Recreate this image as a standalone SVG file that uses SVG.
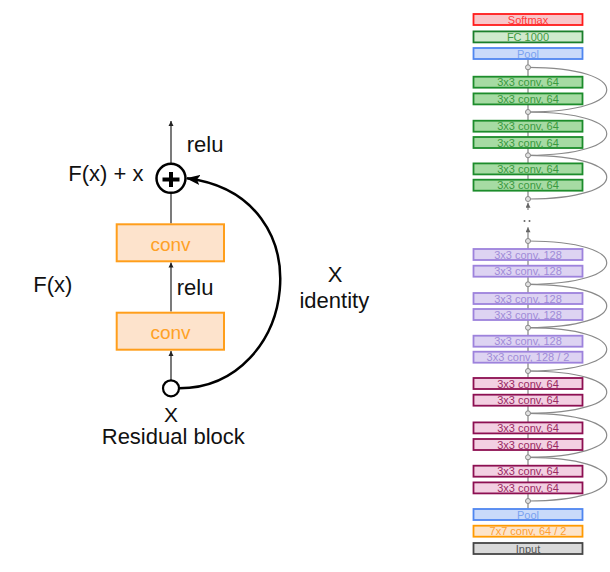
<svg xmlns="http://www.w3.org/2000/svg" width="610" height="572" viewBox="0 0 610 572">
<defs>
<marker id="ah" viewBox="0 0 10 10" refX="10" refY="5" markerWidth="5" markerHeight="6" markerUnits="userSpaceOnUse" orient="auto">
<path d="M0,0 L10,5 L0,10 Z" fill="#222"/>
</marker>
<marker id="big" viewBox="0 0 14 10" refX="13" refY="5" markerWidth="14" markerHeight="10" markerUnits="userSpaceOnUse" orient="auto">
<path d="M0,0 L14,5 L0,10 L3,5 Z" fill="#000"/>
</marker>
<marker id="gah" viewBox="0 0 10 10" refX="10" refY="5" markerWidth="6" markerHeight="5" markerUnits="userSpaceOnUse" orient="auto">
<path d="M0,0 L10,5 L0,10 Z" fill="#666"/>
</marker>
</defs>
<style>
.lbl{font-family:"Liberation Sans",Arial,sans-serif;font-size:22px;fill:#111}
.conv{fill:#fde3cc;stroke:#ff9e1b;stroke-width:2}
.convt{font-family:"Liberation Sans",Arial,sans-serif;font-size:19px;fill:#ffa126;text-anchor:middle}
.ln{stroke:#333;stroke-width:1.3;fill:none}
.bx{stroke-width:1.8}
.bt{font-family:"Liberation Sans",Arial,sans-serif;font-size:11px;text-anchor:middle}
.red{fill:#f8c6c9;stroke:#ff1a1a}
.redt{fill:#ff3a3a}
.fc{fill:#d0eacd;stroke:#1b7f2b}
.fct{fill:#3f9a3f}
.pool{fill:#c9dafa;stroke:#4f86f0}
.poolt{fill:#7aa2f0}
.grn{fill:#a6dba3;stroke:#1c8c2b}
.grnt{fill:#3a9a3f}
.pur{fill:#ddd3f2;stroke:#9d82dc}
.purt{fill:#a08cd8}
.pnk{fill:#f3d0e2;stroke:#8d0f52}
.pnkt{fill:#9a2a62}
.org{fill:#fde4ca;stroke:#ff9a00}
.orgt{fill:#ffa030}
.inp{fill:#d9d9d9;stroke:#454545}
.inpt{fill:#555}
.sk{fill:none;stroke:#8a8a8a;stroke-width:1.2}
.vl{stroke:#777;stroke-width:1.1;fill:none}
.dot{fill:#e2e2e2;stroke:#888;stroke-width:1}
</style>

<g id="connectors">
<line class="ln" x1="171" y1="163" x2="171" y2="121" marker-end="url(#ah)"/>
<line class="ln" x1="171" y1="223.5" x2="171" y2="193.5"/>
<line class="ln" x1="171" y1="311.5" x2="171" y2="262.5" marker-end="url(#ah)"/>
<line class="ln" x1="171" y1="380" x2="171" y2="351" marker-end="url(#ah)"/>
<path d="M179,388.3 C298,388 326,196 187,178.3" fill="none" stroke="#000" stroke-width="2.5" marker-end="url(#big)"/>

<line class="vl" x1="528" y1="59.5" x2="528" y2="199"/>
<line class="vl" x1="528" y1="241" x2="528" y2="508.5"/>
<line class="vl" x1="528" y1="210" x2="528" y2="202.7" marker-end="url(#gah)"/>
<line class="vl" x1="528" y1="241" x2="528" y2="227.3" marker-end="url(#gah)"/>
<circle cx="524.5" cy="221" r="1" fill="#666"/>
<circle cx="529.5" cy="221" r="1" fill="#666"/>
<path class="sk" d="M528,112 C633,112 633,67.3 528,67.3"/>
<path class="sk" d="M528,155.3 C633,155.3 633,112 528,112"/>
<path class="sk" d="M528,199 C633,199 633,155.3 528,155.3"/>
<path class="sk" d="M528,284.3 C633,284.3 633,241 528,241"/>
<path class="sk" d="M528,327.7 C633,327.7 633,284.3 528,284.3"/>
<path class="sk" d="M528,371 C633,371 633,327.7 528,327.7"/>
<path class="sk" d="M528,413.3 C633,413.3 633,371 528,371"/>
<path class="sk" d="M528,457.3 C633,457.3 633,413.3 528,413.3"/>
<path class="sk" d="M528,501 C633,501 633,457.3 528,457.3"/>
</g>

<g id="left-labels">
<text class="lbl" x="186.7" y="151.7">relu</text>
<text class="lbl" x="68.3" y="181">F(x) + x</text>
<text class="lbl" x="33.3" y="292">F(x)</text>
<text class="lbl" x="176.7" y="295">relu</text>
<text class="lbl" x="171" y="422" text-anchor="middle" style="font-size:21px">X</text>
<text class="lbl" x="173.3" y="443.8" text-anchor="middle">Residual block</text>
<text class="lbl" x="335" y="282" text-anchor="middle">X</text>
<text class="lbl" x="334.3" y="307.7" text-anchor="middle">identity</text>
</g>

<g id="plus">
<circle cx="171" cy="178.3" r="14.5" fill="#fff" stroke="#000" stroke-width="2.5"/>
<line x1="162.5" y1="179.5" x2="179.5" y2="179.5" stroke="#000" stroke-width="4"/>
<line x1="171" y1="172" x2="171" y2="187" stroke="#000" stroke-width="4"/>
</g>
<g id="conv-upper">
<rect class="conv" x="116.7" y="224.3" width="107.3" height="37"/>
<text class="convt" x="170.5" y="250.7">conv</text>
</g>
<g id="conv-lower">
<rect class="conv" x="116.7" y="312.7" width="107.3" height="37"/>
<text class="convt" x="170.5" y="339">conv</text>
</g>
<g id="input-x">
<circle cx="171" cy="388.3" r="8" fill="#fff" stroke="#000" stroke-width="2.2"/>
</g>

<g id="softmax"><rect class="bx red" x="473.5" y="14" width="109" height="11"/><text class="bt redt" x="528" y="23.6">Softmax</text></g>
<g id="fc"><rect class="bx fc" x="473.5" y="31.4" width="109" height="11"/><text class="bt fct" x="528" y="41">FC 1000</text></g>
<g id="pool-top"><rect class="bx pool" x="473.5" y="48" width="109" height="11"/><text class="bt poolt" x="528" y="57.6">Pool</text></g>

<g id="g1"><rect class="bx grn" x="473.5" y="76.7" width="109" height="11"/><text class="bt grnt" x="528" y="86.3">3x3 conv, 64</text></g>
<g id="g2"><rect class="bx grn" x="473.5" y="93.4" width="109" height="11"/><text class="bt grnt" x="528" y="103">3x3 conv, 64</text></g>
<g id="g3"><rect class="bx grn" x="473.5" y="120.7" width="109" height="11"/><text class="bt grnt" x="528" y="130.3">3x3 conv, 64</text></g>
<g id="g4"><rect class="bx grn" x="473.5" y="137" width="109" height="11"/><text class="bt grnt" x="528" y="146.6">3x3 conv, 64</text></g>
<g id="g5"><rect class="bx grn" x="473.5" y="163.4" width="109" height="11"/><text class="bt grnt" x="528" y="173">3x3 conv, 64</text></g>
<g id="g6"><rect class="bx grn" x="473.5" y="179.7" width="109" height="11"/><text class="bt grnt" x="528" y="189.3">3x3 conv, 64</text></g>

<g id="p1"><rect class="bx pur" x="473.5" y="249" width="109" height="11"/><text class="bt purt" x="528" y="258.6">3x3 conv, 128</text></g>
<g id="p2"><rect class="bx pur" x="473.5" y="265.7" width="109" height="11"/><text class="bt purt" x="528" y="275.3">3x3 conv, 128</text></g>
<g id="p3"><rect class="bx pur" x="473.5" y="293" width="109" height="11"/><text class="bt purt" x="528" y="302.6">3x3 conv, 128</text></g>
<g id="p4"><rect class="bx pur" x="473.5" y="309" width="109" height="11"/><text class="bt purt" x="528" y="318.6">3x3 conv, 128</text></g>
<g id="p5"><rect class="bx pur" x="473.5" y="335.7" width="109" height="11"/><text class="bt purt" x="528" y="345.3">3x3 conv, 128</text></g>
<g id="p6"><rect class="bx pur" x="473.5" y="351.7" width="109" height="11"/><text class="bt purt" x="528" y="361.3">3x3 conv, 128 / 2</text></g>

<g id="k1"><rect class="bx pnk" x="473.5" y="378" width="109" height="11"/><text class="bt pnkt" x="528" y="387.6">3x3 conv, 64</text></g>
<g id="k2"><rect class="bx pnk" x="473.5" y="394.7" width="109" height="11"/><text class="bt pnkt" x="528" y="404.3">3x3 conv, 64</text></g>
<g id="k3"><rect class="bx pnk" x="473.5" y="422.4" width="109" height="11"/><text class="bt pnkt" x="528" y="432">3x3 conv, 64</text></g>
<g id="k4"><rect class="bx pnk" x="473.5" y="439" width="109" height="11"/><text class="bt pnkt" x="528" y="448.6">3x3 conv, 64</text></g>
<g id="k5"><rect class="bx pnk" x="473.5" y="465.7" width="109" height="11"/><text class="bt pnkt" x="528" y="475.3">3x3 conv, 64</text></g>
<g id="k6"><rect class="bx pnk" x="473.5" y="482.4" width="109" height="11"/><text class="bt pnkt" x="528" y="492">3x3 conv, 64</text></g>

<g id="pool-bottom"><rect class="bx pool" x="473.5" y="509" width="109" height="11"/><text class="bt poolt" x="528" y="518.6">Pool</text></g>
<g id="conv7"><rect class="bx org" x="473.5" y="525.7" width="109" height="11"/><text class="bt orgt" x="528" y="535.3">7x7 conv, 64 / 2</text></g>
<g id="input"><rect class="bx inp" x="473.5" y="543" width="109" height="11"/><text class="bt inpt" x="528" y="552.6">Input</text></g>

<g id="junctions">
<circle class="dot" cx="528" cy="67.3" r="2.5"/>
<circle class="dot" cx="528" cy="112" r="2.5"/>
<circle class="dot" cx="528" cy="155.3" r="2.5"/>
<circle class="dot" cx="528" cy="199" r="2.5"/>
<circle class="dot" cx="528" cy="241" r="2.5"/>
<circle class="dot" cx="528" cy="284.3" r="2.5"/>
<circle class="dot" cx="528" cy="327.7" r="2.5"/>
<circle class="dot" cx="528" cy="371" r="2.5"/>
<circle class="dot" cx="528" cy="413.3" r="2.5"/>
<circle class="dot" cx="528" cy="457.3" r="2.5"/>
<circle class="dot" cx="528" cy="501" r="2.5"/>
</g>
</svg>
